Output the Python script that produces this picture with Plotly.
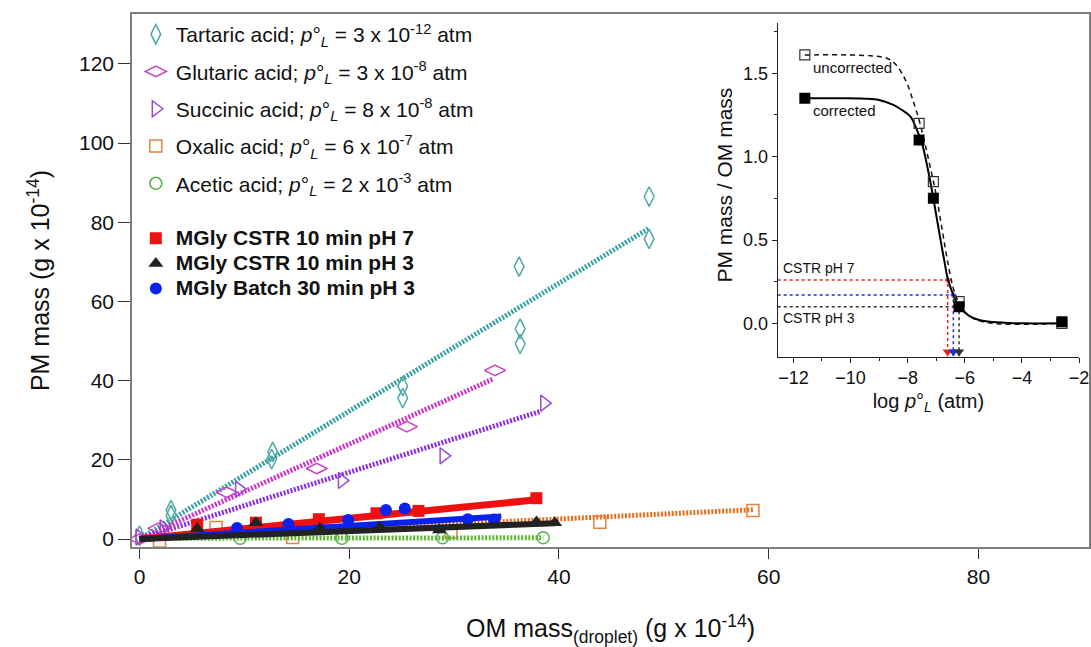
import plotly.graph_objects as go

FONT = "Liberation Sans, Arial, Helvetica, sans-serif"

# ---------------- main panel data (g x 1e-14) ----------------
tartaric_x = [0.0, 3.0, 3.0, 12.6, 12.7, 25.1, 25.1, 36.3, 36.3, 36.2, 48.6, 48.6]
tartaric_y = [0.8, 6.0, 7.3, 20.2, 22.0, 35.6, 38.6, 49.3, 53.1, 68.8, 75.8, 86.5]
glutaric_x = [0.0, 1.8, 8.3, 16.9, 25.5, 33.9]
glutaric_y = [0.0, 2.7, 11.8, 17.8, 28.4, 42.6]
succinic_x = [0.0, 2.3, 9.5, 19.3, 29.0, 38.6]
succinic_y = [0.5, 2.8, 12.6, 14.8, 21.0, 34.3]
oxalic_x = [1.9, 7.3, 14.6, 29.7, 43.9, 58.5]
oxalic_y = [-0.5, 2.9, 0.4, 1.8, 4.2, 7.2]
acetic_x = [9.6, 19.3, 28.9, 38.5]
acetic_y = [0.2, 0.2, 0.3, 0.3]

# fitted lines (end points)
tartaric_fit_x = [0.0, 48.6]
tartaric_fit_y = [0.0, 78.5]
glutaric_fit_x = [0.0, 33.7]
glutaric_fit_y = [0.0, 40.4]
succinic_fit_x = [0.0, 38.3]
succinic_fit_y = [0.0, 32.3]
oxalic_fit_x = [0.0, 58.5]
oxalic_fit_y = [0.0, 7.4]
acetic_fit_x = [0.0, 38.5]
acetic_fit_y = [0.2, 0.3]

cstr7_x = [5.5, 11.1, 17.1, 22.6, 26.6, 37.85]
cstr7_y = [3.6, 4.1, 5.0, 6.5, 7.1, 10.3]
cstr7_fit_x = [0.0, 37.85]
cstr7_fit_y = [0.0, 9.9]
cstr3_x = [5.5, 11.1, 17.2, 22.9, 28.6, 37.85, 39.6]
cstr3_y = [2.6, 4.1, 2.7, 3.0, 2.3, 4.3, 4.1]
cstr3_fit_x = [0.0, 39.6]
cstr3_fit_y = [0.0, 4.0]
batch_x = [9.3, 14.2, 19.9, 23.5, 25.3, 31.3, 33.8]
batch_y = [2.8, 3.8, 4.8, 7.3, 7.7, 5.0, 4.9]
batch_fit_x = [0.0, 34.5]
batch_fit_y = [0.0, 5.7]

# ---------------- inset data ----------------
logp = [-11.6, -7.6, -7.1, -6.2, -2.6]
ratio_corrected = [1.35, 1.10, 0.75, 0.10, 0.01]
ratio_uncorrected = [1.61, 1.20, 0.85, 0.13, 0.00]

corr_curve_x = [-11.6, -10.5, -9.5, -9.0, -8.5, -8.2, -7.9, -7.7, -7.5, -7.3, -7.1,
                -6.9, -6.7, -6.6, -6.4, -6.2, -6.0, -5.8, -5.5, -5.0, -4.5, -4.0, -2.6]
corr_curve_y = [1.35, 1.35, 1.348, 1.34, 1.31, 1.28, 1.24, 1.17, 1.08, 0.93, 0.75,
                0.55, 0.36, 0.27, 0.17, 0.10, 0.065, 0.04, 0.02, 0.008, 0.003, 0.0, 0.0]
unc_curve_x = [-11.6, -10.0, -9.3, -9.0, -8.8, -8.6, -8.4, -8.2, -8.0, -7.8, -7.6,
               -7.4, -7.2, -7.0, -6.8, -6.6, -6.4, -6.2, -6.0, -5.8, -5.5, -5.0,
               -4.5, -3.5, -2.6]
unc_curve_y = [1.61, 1.61, 1.605, 1.60, 1.595, 1.58, 1.55, 1.50, 1.43, 1.33, 1.22,
               1.08, 0.93, 0.77, 0.57, 0.37, 0.21, 0.12, 0.07, 0.04, 0.015, 0.0,
               -0.005, -0.005, 0.0]

cstr_ratio = [0.26, 0.17, 0.10]
cstr_logp = [-6.6, -6.4, -6.2]
cstr_colors = ["#e8231f", "#1a2ee0", "#333333"]

INSET_X = [-12.55, -2.0]
INSET_Y = [-0.2, 1.8]
ARROW_LIFT = 0.03  # arrowhead sits just above the inset x axis

fig = go.Figure()

DOT = "2px,1.6px"

acids = [
    ("Tartaric acid; <i>p</i>°<sub><i>L</i></sub> = 3 x 10<sup>-12</sup> atm",
     tartaric_x, tartaric_y, tartaric_fit_x, tartaric_fit_y, "diamond-tall-open", 14, "#4fa9a6", "#35a0a0"),
    ("Glutaric acid; <i>p</i>°<sub><i>L</i></sub> = 3 x 10<sup>-8</sup> atm",
     glutaric_x, glutaric_y, glutaric_fit_x, glutaric_fit_y, "diamond-wide-open", 15, "#c841c4", "#cc30c8"),
    ("Succinic acid; <i>p</i>°<sub><i>L</i></sub> = 8 x 10<sup>-8</sup> atm",
     succinic_x, succinic_y, succinic_fit_x, succinic_fit_y, "triangle-right-open", 14, "#9a48d6", "#8a2ee6"),
    ("Oxalic acid; <i>p</i>°<sub><i>L</i></sub> = 6 x 10<sup>-7</sup> atm",
     oxalic_x, oxalic_y, oxalic_fit_x, oxalic_fit_y, "square-open", 12, "#e5813f", "#ec6e1c"),
    ("Acetic acid; <i>p</i>°<sub><i>L</i></sub> = 2 x 10<sup>-3</sup> atm",
     acetic_x, acetic_y, acetic_fit_x, acetic_fit_y, "circle-open", 12, "#58b04a", "#5cb82c"),
]

for name, x, y, fx, fy, sym, size, mc, lc in acids:
    fig.add_trace(go.Scatter(x=fx, y=fy, mode="lines", showlegend=False, hoverinfo="skip",
                             line=dict(color=lc, width=5, dash=DOT)))
    fig.add_trace(go.Scatter(x=x, y=y, mode="markers", name=name, legendgroup=name,
                             legend="legend",
                             marker=dict(symbol=sym, size=size, color=mc,
                                         line=dict(color=mc, width=1.5))))

mgly = [
    ("MGly CSTR 10 min pH 7", cstr7_x, cstr7_y, cstr7_fit_x, cstr7_fit_y, "square", 12, "#ee1111", 7, 1),
    ("MGly Batch 30 min pH 3", batch_x, batch_y, batch_fit_x, batch_fit_y, "circle", 12, "#0a22ee", 6, 3),
    ("MGly CSTR 10 min pH 3", cstr3_x, cstr3_y, cstr3_fit_x, cstr3_fit_y, "triangle-up", 13, "#222222", 6, 2),
]
for name, x, y, fx, fy, sym, size, c, lw, rank in mgly:
    fig.add_trace(go.Scatter(x=fx, y=fy, mode="lines", showlegend=False, hoverinfo="skip",
                             line=dict(color=c, width=lw)))
    fig.add_trace(go.Scatter(x=x, y=y, mode="markers",
                             name="<span style='font-size:21px'><b>" + name + "</b></span>",
                             legend="legend2", legendrank=rank, legendgroup=name,
                             marker=dict(symbol=sym, size=size, color=c, line=dict(width=0))))

# ---------------- inset traces ----------------
for r, lp, c in zip(cstr_ratio, cstr_logp, cstr_colors):
    fig.add_trace(go.Scatter(x=[INSET_X[0], lp, lp], y=[r, r, INSET_Y[0]], mode="lines+markers",
                             xaxis="x2", yaxis="y2", showlegend=False, hoverinfo="skip",
                             line=dict(color=c, width=1.5, dash="dot"),
                             marker=dict(size=[0, 6, 0], color=c, symbol="diamond")))
    fig.add_trace(go.Scatter(x=[lp], y=[INSET_Y[0] + ARROW_LIFT], mode="markers",
                             xaxis="x2", yaxis="y2", showlegend=False, hoverinfo="skip",
                             marker=dict(symbol="triangle-down", size=9, color=c)))

fig.add_trace(go.Scatter(x=unc_curve_x, y=unc_curve_y, mode="lines", line_shape="spline",
                         xaxis="x2", yaxis="y2", showlegend=False,
                         line=dict(color="#111111", width=1.5, dash="5px,4px")))
fig.add_trace(go.Scatter(x=corr_curve_x, y=corr_curve_y, mode="lines", line_shape="spline",
                         xaxis="x2", yaxis="y2", showlegend=False,
                         line=dict(color="#000000", width=2)))
fig.add_trace(go.Scatter(x=logp, y=ratio_uncorrected, mode="markers", xaxis="x2", yaxis="y2",
                         showlegend=False,
                         marker=dict(symbol="square-open", size=10, color="#333333",
                                     line=dict(width=1.2, color="#333333"))))
fig.add_trace(go.Scatter(x=logp, y=ratio_corrected, mode="markers", xaxis="x2", yaxis="y2",
                         showlegend=False,
                         marker=dict(symbol="square", size=11, color="#000000")))

inset_labels = [("uncorrected", -11.38, 1.535, 15), ("corrected", -11.38, 1.275, 15),
                ("CSTR pH 7", -12.45, 0.33, 14), ("CSTR pH 3", -12.45, 0.03, 14)]
for txt, ax_, ay_, fs in inset_labels:
    fig.add_annotation(x=ax_, y=ay_, xref="x2", yref="y2", text=txt, showarrow=False,
                       xanchor="left", yanchor="middle", font=dict(size=fs, color="#111111"))

# inset y-axis title
fig.add_annotation(x=0.619, y=0.679, xref="paper", yref="paper", text="PM mass / OM mass",
                   textangle=-90, showarrow=False, xanchor="center", yanchor="middle",
                   font=dict(family=FONT, size=21, color="#111111"))

axis_font = dict(family=FONT, size=21, color="#111111")
fig.update_layout(
    width=1091, height=647,
    margin=dict(l=132, r=2, t=14, b=100, autoexpand=False),
    paper_bgcolor="white", plot_bgcolor="white",
    font=dict(family=FONT, color="#111111"),
    xaxis=dict(range=[-0.72, 90.55], showgrid=False, zeroline=False,
               showline=True, mirror=True, linecolor="#7f7f7f", linewidth=1.5,
               ticks="outside", ticklen=10, tickwidth=1.3, tickcolor="#333333",
               tick0=0, dtick=20, tickfont=axis_font,
               title=dict(text="OM mass<sub>(droplet)</sub> (g x 10<sup>-14</sup>)",
                          font=dict(family=FONT, size=25, color="#111111"), standoff=33)),
    yaxis=dict(range=[-2.02, 132.6], showgrid=False, zeroline=False,
               showline=True, mirror=True, linecolor="#7f7f7f", linewidth=1.5,
               ticks="outside", ticklen=12, tickwidth=1.3, tickcolor="#333333",
               tick0=0, dtick=20, tickfont=axis_font,
               title=dict(text="PM mass (g x 10<sup>-14</sup>)",
                          font=dict(family=FONT, size=25, color="#111111"), standoff=22)),
    xaxis2=dict(domain=[0.6747, 0.9896], anchor="y2", range=INSET_X, showgrid=False,
                zeroline=False, showline=True, linecolor="#222222", linewidth=1.3,
                ticks="outside", ticklen=5, tickcolor="#222222", tick0=-12, dtick=2,
                minor=dict(ticks="outside", ticklen=3, dtick=1, tick0=-12, tickcolor="#222222"),
                tickfont=dict(family=FONT, size=18, color="#111111"),
                title=dict(text="log <i>p</i>°<sub><i>L</i></sub> (atm)",
                           font=dict(family=FONT, size=20, color="#111111"), standoff=6)),
    yaxis2=dict(domain=[0.357, 0.9826], anchor="x2", range=INSET_Y, showgrid=False,
                zeroline=False, showline=True, linecolor="#222222", linewidth=1.3,
                ticks="outside", ticklen=5, tickcolor="#222222", tick0=0, dtick=0.5,
                tickformat=".1f",
                minor=dict(ticks="outside", ticklen=3, dtick=0.25, tick0=0, tickcolor="#222222"),
                tickfont=dict(family=FONT, size=18, color="#111111")),
    legend=dict(x=0.004, y=1.0, xanchor="left", yanchor="top",
                font=dict(family=FONT, size=21, color="#111111"),
                tracegroupgap=7, bgcolor="rgba(0,0,0,0)", borderwidth=0),
    legend2=dict(x=0.004, y=0.612, xanchor="left", yanchor="top",
                 font=dict(family=FONT, size=17, color="#111111"),
                 tracegroupgap=0, bgcolor="rgba(0,0,0,0)", borderwidth=0,
                 traceorder="normal"),
)

fig.write_html("out.html", config={"displayModeBar": False},
               post_script="document.body.style.margin='0';document.body.style.overflow='hidden';")
